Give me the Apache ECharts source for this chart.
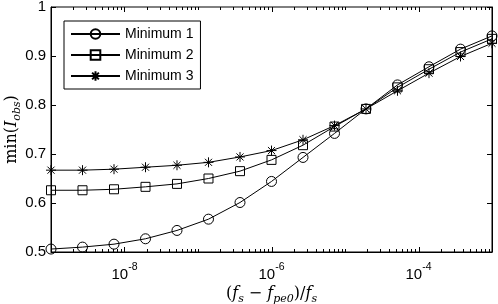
<!DOCTYPE html>
<html><head><meta charset="utf-8">
<script src="https://cdn.jsdelivr.net/npm/echarts@6/dist/echarts.min.js"></script>
<style>html,body{margin:0;padding:0;background:#fff}#c{width:498px;height:304px}</style>
</head><body><div id="c"></div>
<script>
// ---- data ----
const xValues = [1e-9, 2.683e-9, 7.197e-9, 1.931e-8, 5.179e-8, 1.389e-7, 3.728e-7, 1e-6,
                 2.683e-6, 7.197e-6, 1.931e-5, 5.179e-5, 1.389e-4, 3.728e-4, 1e-3];
const minimum1 = [0.506, 0.510, 0.516, 0.527, 0.544, 0.567, 0.601, 0.644, 0.693, 0.742, 0.792, 0.841, 0.878, 0.914, 0.941];
const minimum2 = [0.626, 0.626, 0.628, 0.633, 0.639, 0.650, 0.665, 0.688, 0.718, 0.756, 0.792, 0.836, 0.873, 0.908, 0.935];
const minimum3 = [0.667, 0.667, 0.669, 0.673, 0.677, 0.683, 0.694, 0.707, 0.729, 0.758, 0.792, 0.829, 0.865, 0.899, 0.926];
const seriesNames = ['Minimum 1', 'Minimum 2', 'Minimum 3'];
const yTicks = [0.5, 0.6, 0.7, 0.8, 0.9, 1];
const xLabelExponents = [-8, -6, -4];
const xMajorTicks = [1e-8, 1e-6, 1e-4];
const xDecades = [1e-9, 1e-8, 1e-7, 1e-6, 1e-5, 1e-4];
const xMinorMultipliers = [2, 3, 4, 5, 6, 7, 8, 9];
const xOddDecadeTicks = [1e-7, 1e-5];

// ---- tick list for custom drawing ----
const tickData = [];
xMajorTicks.forEach(v => tickData.push([v, 5]));
xOddDecadeTicks.forEach(v => tickData.push([v, 3]));
xDecades.forEach(d => xMinorMultipliers.forEach(m => tickData.push([d * m, 3])));

const pair = arr => xValues.map((x, i) => [x, arr[i]]);
const starPath = 'path://M0,-10L0,10M-10,0L10,0M-7.07,-7.07L7.07,7.07M-7.07,7.07L7.07,-7.07';
const symbols = ['circle', 'rect', starPath];
const sizes = [10, 9, 10];
const datasets = [minimum1, minimum2, minimum3];

const chart = echarts.init(document.getElementById('c'), null, {renderer: 'canvas'});
const serif = 'DejaVu Serif';
const sans = 'Liberation Sans';
const nameRich = {
  n: {fontFamily: serif, fontSize: 16, color: '#000', lineHeight: 22},
  i: {fontFamily: serif, fontStyle: 'italic', fontSize: 16, color: '#000', lineHeight: 22},
  s: {fontFamily: serif, fontStyle: 'italic', fontSize: 11, color: '#000', lineHeight: 20, verticalAlign: 'bottom'}
};

const option = {
  animation: false,
  backgroundColor: '#fff',
  grid: {left: 51, right: 6, top: 7, bottom: 52, outerBoundsMode: 'none', containLabel: false,
         show: true, borderColor: '#000', borderWidth: 1, backgroundColor: 'transparent'},
  legend: {
    data: seriesNames, orient: 'vertical', left: 64, top: 21,
    itemWidth: 49, itemHeight: 12, itemGap: 7, padding: [6, 7, 6, 6],
    borderColor: '#000', borderWidth: 1, backgroundColor: '#fff',
    textStyle: {fontFamily: sans, fontSize: 14, color: '#000'}
  },
  xAxis: [{
    type: 'log', logBase: 10, min: 1e-9, max: 1e-3,
    axisLine: {show: true, lineStyle: {color: '#000'}},
    axisTick: {show: false},
    splitLine: {show: false},
    minorTick: {show: false},
    axisLabel: {
      margin: 10, color: '#000', hideOverlap: false,
      formatter: v => {
        const e = Math.round(Math.log10(v));
        return xLabelExponents.includes(e) ? '{b|10}{s|' + e + '}' : '';
      },
      rich: {
        b: {fontFamily: sans, fontSize: 15, color: '#000', lineHeight: 20, verticalAlign: 'bottom'},
        s: {fontFamily: sans, fontSize: 10.5, color: '#000', lineHeight: 20, verticalAlign: 'top'}
      }
    },
    name: '{n|(}{i|f}{s|s}{n| − }{i|f}{s|pe0}{n|)/}{i|f}{s|s}',
    nameLocation: 'middle', nameGap: 31, nameMoveOverlap: false,
    nameTextStyle: {rich: nameRich}
  }],
  yAxis: [{
    type: 'value', min: yTicks[0], max: yTicks[yTicks.length - 1], interval: 0.1,
    axisLine: {show: true, lineStyle: {color: '#000'}},
    axisTick: {show: true, inside: true, length: 5, lineStyle: {color: '#000'}},
    splitLine: {show: false},
    axisLabel: {margin: 5, color: '#000', fontFamily: sans, fontSize: 15,
      formatter: v => String(Math.round(v * 10) / 10)},
    name: '{n|min(}{i|I}{s|obs}{n|)}',
    nameLocation: 'middle', nameGap: 28, nameRotate: 90, nameMoveOverlap: false,
    nameTextStyle: {rich: nameRich}
  }, {
    type: 'value', position: 'right', min: yTicks[0], max: yTicks[yTicks.length - 1], interval: 0.1,
    axisLine: {show: true, lineStyle: {color: '#000'}},
    axisTick: {show: true, inside: true, length: 5, lineStyle: {color: '#000'}},
    splitLine: {show: false},
    axisLabel: {show: false}
  }],
  series: seriesNames.map((name, k) => ({
    name, type: 'line', data: pair(datasets[k]),
    symbol: symbols[k], symbolSize: sizes[k], showSymbol: true, showAllSymbol: true,
    lineStyle: {color: '#000', width: 1},
    itemStyle: {color: 'rgba(255,255,255,0)', borderColor: '#000', borderWidth: 1},
    emphasis: {disabled: true}, z: 3 + k
  })).concat([{
    type: 'custom', silent: true, data: tickData, z: 2,
    encode: {x: 0},
    renderItem: (params, api) => {
      const v = api.value(0);
      const len = api.value(1);
      const b = api.coord([v, yTicks[0]]);
      const t = api.coord([v, yTicks[yTicks.length - 1]]);
      const x = Math.round(b[0]) + 0.5;
      return {
        type: 'group', children: [
          {type: 'line', shape: {x1: x, y1: b[1], x2: x, y2: b[1] - len}, style: {stroke: '#000', lineWidth: 1}},
          {type: 'line', shape: {x1: x, y1: t[1], x2: x, y2: t[1] + len}, style: {stroke: '#000', lineWidth: 1}}
        ]
      };
    }
  }])
};
chart.setOption(option);
</script>
</body></html>
